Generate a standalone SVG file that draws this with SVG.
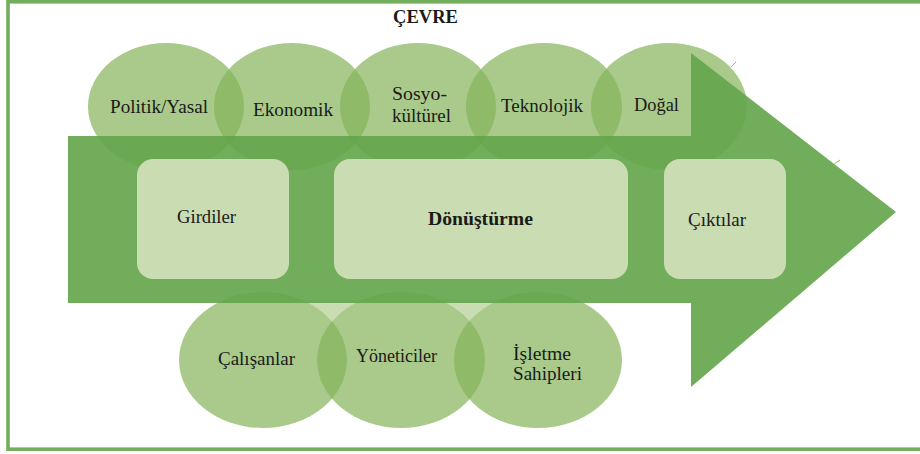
<svg xmlns="http://www.w3.org/2000/svg" width="920" height="454" viewBox="0 0 920 454">
  <defs>
    <style>
      .frame { fill: none; stroke: #72ae5b; stroke-width: 3.6; }
      .bubble { fill: #84b359; fill-opacity: 0.7; }
      .under { fill: #ffffff; }
      .flow { fill: #63a44a; fill-opacity: 0.9; }
      .stage { fill: #cadcb2; }
      .strip { fill: #cadcb2; }
      .tick { stroke: #8fbf6f; stroke-width: 1; fill: none; }
      .lbl { font-family: "Liberation Serif", "Times New Roman", serif; font-size: 18px; fill: #1a1a1a; }
      .bold { font-weight: bold; }
    </style>
  </defs>

  <rect width="920" height="454" fill="#ffffff"/>

  <!-- outer environment frame (open to the right) -->
  <rect class="frame" x="8" y="1.8" width="940" height="447.4"/>
  <text id="cevre" class="lbl bold" x="393" y="23" font-size="16" textLength="65" lengthAdjust="spacingAndGlyphs">ÇEVRE</text>

  <!-- environmental factors (top row) -->
  <g id="politik-yasal">
    <ellipse class="bubble" cx="166" cy="106.5" rx="78" ry="63.5"/>
  </g>
  <g id="ekonomik">
    <ellipse class="bubble" cx="292" cy="106.5" rx="78" ry="63.5"/>
  </g>
  <g id="sosyo-kulturel">
    <ellipse class="bubble" cx="418" cy="106.5" rx="78" ry="63.5"/>
  </g>
  <g id="teknolojik">
    <ellipse class="bubble" cx="544" cy="106.5" rx="78" ry="63.5"/>
  </g>
  <g id="dogal">
    <ellipse class="bubble" cx="669" cy="106.5" rx="78" ry="63.5"/>
  </g>

  <!-- stakeholders (bottom row) -->
  <rect class="strip" x="295" y="300" width="210" height="26"/>
  <ellipse class="under" cx="263" cy="360" rx="84" ry="68"/>
  <ellipse class="under" cx="401" cy="360" rx="84" ry="68"/>
  <ellipse class="under" cx="538" cy="360" rx="84" ry="68"/>
  <g id="calisanlar">
    <ellipse class="bubble" cx="263" cy="360" rx="84" ry="68"/>
  </g>
  <g id="yoneticiler">
    <ellipse class="bubble" cx="401" cy="360" rx="84" ry="68"/>
  </g>
  <g id="isletme-sahipleri">
    <ellipse class="bubble" cx="538" cy="360" rx="84" ry="68"/>
  </g>

  <!-- process arrow -->
  <g id="connectors">
    <path class="flow" d="M68,136 L691,136 L691,53 L896,212 L691,387 L691,303 L68,303 Z"/>
    <path class="tick" d="M731,67 L736,62 M834,164 L840,160"/>
  </g>

  <!-- process stages -->
  <g id="girdiler">
    <rect class="stage" x="137" y="159" width="152" height="120" rx="16"/>
    <text class="lbl" x="177" y="223" textLength="59" lengthAdjust="spacingAndGlyphs">Girdiler</text>
  </g>
  <g id="donusturme">
    <rect class="stage" x="334" y="159" width="294" height="120" rx="16"/>
    <text class="lbl bold" x="428" y="225" textLength="105" lengthAdjust="spacingAndGlyphs">Dönüştürme</text>
  </g>
  <g id="ciktilar">
    <rect class="stage" x="664" y="159" width="122" height="120" rx="16"/>
    <text class="lbl" x="688" y="226" textLength="58" lengthAdjust="spacingAndGlyphs">Çıktılar</text>
  </g>

  <!-- factor labels -->
  <g id="factor-labels">
    <text class="lbl" x="110" y="113" textLength="98" lengthAdjust="spacingAndGlyphs">Politik/Yasal</text>
    <text class="lbl" x="253" y="116" textLength="80" lengthAdjust="spacingAndGlyphs">Ekonomik</text>
    <text class="lbl" x="392" y="100" textLength="55" lengthAdjust="spacingAndGlyphs">Sosyo-</text>
    <text class="lbl" x="392" y="122" textLength="59" lengthAdjust="spacingAndGlyphs">kültürel</text>
    <text class="lbl" x="501" y="112" textLength="82" lengthAdjust="spacingAndGlyphs">Teknolojik</text>
    <text class="lbl" x="634" y="111" textLength="45" lengthAdjust="spacingAndGlyphs">Doğal</text>
  </g>

  <!-- stakeholder labels -->
  <g id="stakeholder-labels">
    <text class="lbl" x="218" y="365" textLength="77" lengthAdjust="spacingAndGlyphs">Çalışanlar</text>
    <text class="lbl" x="356" y="362" textLength="81" lengthAdjust="spacingAndGlyphs">Yöneticiler</text>
    <text class="lbl" x="513" y="360" textLength="58" lengthAdjust="spacingAndGlyphs">İşletme</text>
    <text class="lbl" x="513" y="380" textLength="69" lengthAdjust="spacingAndGlyphs">Sahipleri</text>
  </g>
</svg>
